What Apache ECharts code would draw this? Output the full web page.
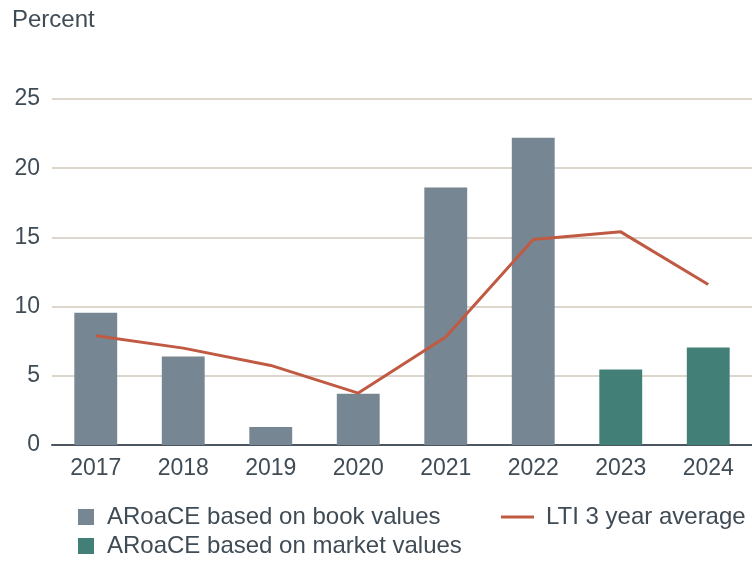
<!DOCTYPE html>
<html>
<head>
<meta charset="utf-8">
<style>html,body{margin:0;padding:0;background:#fff;}#c{width:752px;height:561px;}</style>
<script src="https://cdn.jsdelivr.net/npm/echarts@6/dist/echarts.min.js"></script>
</head>
<body>
<div id="c"></div>
<script>
const categories = ['2017','2018','2019','2020','2021','2022','2023','2024'];
const bookValues = [9.55, 6.4, 1.3, 3.7, 18.6, 22.2, null, null];
const marketValues = [null, null, null, null, null, null, 5.45, 7.05];
const ltiAverage = [7.9, 7.0, 5.75, 3.75, 7.8, 14.85, 15.4, 11.6];
const yTicks = [0, 5, 10, 15, 20, 25];

const textColor = '#3f4b55';
const font = 'Liberation Sans, Arial, sans-serif';
const legendText = { fontSize: 24, color: textColor, fontFamily: font };
const chart = echarts.init(document.getElementById('c'));
chart.setOption({
  animation: false,
  textStyle: { fontFamily: font },
  title: {
    text: 'Percent', left: 12, top: 8, padding: 0,
    textStyle: { fontSize: 24, fontWeight: 'normal', color: textColor, fontFamily: font }
  },
  grid: { left: 52, right: 0, top: 99, bottom: 116 },
  xAxis: {
    type: 'category', data: categories,
    axisLine: { lineStyle: { color: '#4b5660', width: 2 } },
    axisTick: { show: false },
    axisLabel: { fontSize: 23, color: textColor, margin: 12, fontFamily: font }
  },
  yAxis: {
    type: 'value', min: yTicks[0], max: yTicks[yTicks.length - 1], interval: 5,
    axisLine: { show: false }, axisTick: { show: false },
    axisLabel: { fontSize: 23, color: textColor, margin: 12, fontFamily: font }
    ,
    splitLine: { lineStyle: { color: '#d2c8bc', width: 1.5 } }
  },
  legend: [
    {
      left: 78, top: 505, padding: 0, itemWidth: 16, itemHeight: 16, icon: 'rect',
      textStyle: Object.assign({ padding: [0, 0, 0, 8] }, legendText),
      data: ['ARoaCE based on book values']
    },
    {
      left: 78, top: 534, padding: 0, itemWidth: 16, itemHeight: 16, icon: 'rect',
      textStyle: Object.assign({ padding: [0, 0, 0, 8] }, legendText),
      data: ['ARoaCE based on market values']
    },
    {
      left: 501, top: 505, padding: 0, itemWidth: 33, itemHeight: 3,
      icon: 'rect',
      textStyle: Object.assign({ padding: [0, 0, 0, 7] }, legendText),
      data: ['LTI 3 year average']
    }
  ],
  series: [
    { name: 'ARoaCE based on book values', type: 'bar', stack: 'a', barWidth: '49%',
      itemStyle: { color: '#768692' }, data: bookValues },
    { name: 'ARoaCE based on market values', type: 'bar', stack: 'a', barWidth: '49%',
      itemStyle: { color: '#427f76' }, data: marketValues },
    { name: 'LTI 3 year average', type: 'line', symbol: 'none',
      lineStyle: { color: '#c05a43', width: 3 }, itemStyle: { color: '#c05a43' },
      data: ltiAverage }
  ]
});
</script>
</body>
</html>
